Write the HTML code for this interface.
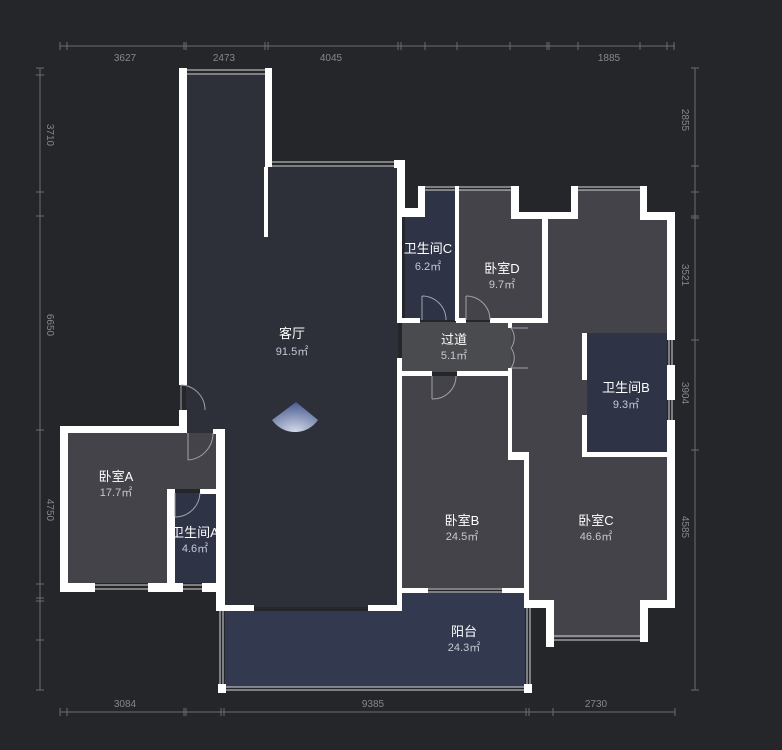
<!DOCTYPE html>
<html><head><meta charset="utf-8"><style>
html,body{margin:0;padding:0;background:#25262a;}
svg{display:block}
.t{font-family:"Liberation Sans","Noto Sans CJK SC",sans-serif;fill:#fff;font-size:13px;text-anchor:middle}
.a{font-family:"Liberation Sans","Noto Sans CJK SC",sans-serif;fill:#c4c8d4;font-size:11px;text-anchor:middle}
.d{font-family:"Liberation Sans",sans-serif;fill:#85878c;font-size:10px;text-anchor:middle}
</style></head><body>
<svg width="782" height="750" viewBox="0 0 782 750" xmlns="http://www.w3.org/2000/svg">
<rect width="782" height="750" fill="#25262a"/>
<!-- dimension lines -->
<g stroke="#6a6c71" stroke-width="1" fill="none">
<line x1="60" y1="46" x2="675" y2="46"/>
<line x1="60" y1="712" x2="675" y2="712"/>
<line x1="40" y1="68" x2="40" y2="690"/>
<line x1="695" y1="68" x2="695" y2="690"/>
<path d="M60 42v8M67 42v8M184 42v8M186 42v8M265 42v8M268 42v8M398 42v8M401 42v8M425 42v8M457 42v8M510 42v8M547 42v8M549 42v8M578 42v8M640 42v8M667 42v8M674 42v8"/>
<path d="M60 708v8M67 708v8M184 708v8M186 708v8M221 708v8M224 708v8M526 708v8M529 708v8M553 708v8M675 708v8"/>
<path d="M36 68h8M36 75h8M36 192h8M36 216h8M36 430h8M36 584h8M36 598h8M36 601h8M36 640h8M36 690h8"/>
<path d="M691 68h8M691 166h8M691 192h8M691 216h8M691 218h8M691 340h8M691 450h8M691 690h8"/>
</g>
<text class="d" x="125" y="61">3627</text><text class="d" x="224" y="61">2473</text>
<text class="d" x="331" y="61">4045</text><text class="d" x="609" y="61">1885</text>
<text class="d" x="125" y="707">3084</text><text class="d" x="373" y="707">9385</text><text class="d" x="596" y="707">2730</text>
<text class="d" transform="translate(47,135) rotate(90)">3710</text>
<text class="d" transform="translate(47,325) rotate(90)">6650</text>
<text class="d" transform="translate(47,510) rotate(90)">4750</text>
<text class="d" transform="translate(682,120) rotate(90)">2855</text>
<text class="d" transform="translate(682,275) rotate(90)">3521</text>
<text class="d" transform="translate(682,393) rotate(90)">3904</text>
<text class="d" transform="translate(682,527) rotate(90)">4585</text>
<!-- room fills -->
<polygon points="186,75 265,75 265,167 398,167 398,607 225,607 225,433 186,433" fill="#2d2f39"/>
<polygon points="68,433 216,433 216,489 167,489 167,583 68,583" fill="#434349"/>
<polygon points="175,493 216,493 216,583 175,583" fill="#2f3346"/>
<polygon points="405,210 418,210 418,190 456,190 456,320 405,320" fill="#2f3346"/>
<polygon points="459,190 511,190 511,218 546,218 546,320 459,320" fill="#434349"/>
<polygon points="402,322 511,322 511,372 402,372" fill="#4a4b4e"/>
<polygon points="402,376 510,376 510,452 524,452 524,588 402,588" fill="#434349"/>
<polygon points="546,218 578,218 578,190 640,190 640,218 667,218 667,602 640,602 640,638 554,638 554,602 528,602 528,457 511,457 511,322 546,322" fill="#434349"/>
<polygon points="587,333 667,333 667,452 587,452" fill="#2f3346"/>
<polygon points="225,611 402,611 402,593 525,593 525,687 225,687" fill="#333a50"/>
<!-- windows (thin lines) -->
<g stroke="#d8d8d8" stroke-width="1" fill="none">
<path d="M186 70h79M186 74h79"/>
<path d="M272 162h122M272 166h122"/>
<path d="M425 187h30M425 190h30M459 187h52M459 190h52"/>
<path d="M578 187h62M578 190h62"/>
<path d="M554 636h86M554 640h86"/>
<path d="M95 585h53M95 589h53M183 585h19M183 589h19"/>
<path d="M428 589h74M428 592h74"/>
<path d="M225 687h299M225 690h299"/>
<path d="M220 611v75M223 611v75M527 608v77M530 608v77"/>
<path d="M669 340v25M672 340v25M669 400v20M672 400v20"/>
</g>
<!-- walls -->
<g fill="#ffffff">
<rect x="179" y="68" width="8" height="317"/><rect x="179" y="410" width="8" height="23"/>
<rect x="179" y="68" width="8" height="7"/><rect x="265" y="68" width="7" height="99"/>
<rect x="264" y="167" width="4" height="70"/>
<rect x="394" y="160" width="11" height="8"/><rect x="398" y="160" width="7" height="50"/>
<rect x="398" y="208" width="27" height="9"/><rect x="418" y="186" width="7" height="31"/>
<rect x="455" y="186" width="4" height="135"/>
<rect x="511" y="186" width="8" height="32"/><rect x="511" y="212" width="67" height="7"/>
<rect x="571" y="186" width="7" height="32"/><rect x="640" y="186" width="7" height="31"/>
<rect x="640" y="212" width="35" height="8"/>
<rect x="667" y="212" width="8" height="128"/><rect x="667" y="365" width="8" height="35"/><rect x="667" y="420" width="8" height="188"/>
<rect x="640" y="600" width="35" height="8"/><rect x="640" y="600" width="8" height="42"/>
<rect x="546" y="600" width="8" height="47"/><rect x="524" y="600" width="30" height="8"/>
<rect x="397" y="318" width="23" height="5"/><rect x="456" y="318" width="10" height="5"/><rect x="490" y="318" width="58" height="5"/>
<rect x="542" y="218" width="6" height="105"/>
<rect x="397" y="160" width="5" height="162"/><rect x="397" y="358" width="5" height="253"/>
<rect x="397" y="371" width="35" height="5"/><rect x="457" y="371" width="54" height="5"/>
<rect x="508" y="318" width="4" height="10"/><rect x="508" y="368" width="4" height="90"/>
<rect x="508" y="452" width="20" height="8"/><rect x="524" y="452" width="5" height="150"/>
<rect x="582" y="333" width="5" height="47"/><rect x="582" y="415" width="5" height="42"/>
<rect x="582" y="452" width="90" height="5"/>
<rect x="60" y="426" width="127" height="7"/><rect x="213" y="429" width="12" height="5"/>
<rect x="60" y="426" width="8" height="166"/>
<rect x="60" y="583" width="35" height="9"/><rect x="148" y="583" width="35" height="9"/><rect x="202" y="583" width="23" height="9"/>
<rect x="216" y="430" width="9" height="181"/>
<rect x="167" y="489" width="8" height="94"/><rect x="200" y="489" width="21" height="5"/>
<rect x="216" y="605" width="38" height="6"/><rect x="368" y="605" width="34" height="6"/>
<rect x="402" y="588" width="26" height="5"/><rect x="502" y="588" width="27" height="5"/>
<rect x="218" y="684" width="8" height="9"/><rect x="524" y="684" width="8" height="9"/>
</g>
<!-- doors -->
<g stroke="#a0a2a8" stroke-width="1" fill="none">
<path d="M181 385v25M181 385a25 25 0 0 1 24 25"/>
<path d="M188 433v27M188 460a27 27 0 0 0 25 -27"/>
<path d="M175 493v24M175 517a25 25 0 0 0 25 -24"/>
<path d="M422 296v24M422 296a24 24 0 0 1 24 24"/>
<path d="M466 296v24M466 296a24 24 0 0 1 24 24"/>
<path d="M432 376v23M432 399a23 23 0 0 0 24 -23"/>
<path d="M511 328h17M511 328a17 17 0 0 1 0 20M511 368h17M511 368a17 17 0 0 0 0 -20"/>
</g>
<!-- compass -->
<defs><radialGradient id="g" cx="0.5" cy="1" r="1"><stop offset="0" stop-color="#e8eefc"/><stop offset="1" stop-color="#4a5f9a"/></radialGradient></defs>
<path d="M296 402 L272 420 A28 28 0 0 0 318 420 Z" fill="url(#g)" opacity="0.9"/>
<!-- labels -->
<text class="t" x="292" y="338">客厅</text><text class="a" x="292" y="355">91.5㎡</text>
<text class="t" x="428" y="253">卫生间C</text><text class="a" x="428" y="270">6.2㎡</text>
<text class="t" x="502" y="273">卧室D</text><text class="a" x="502" y="288">9.7㎡</text>
<text class="t" x="454" y="344">过道</text><text class="a" x="454" y="359">5.1㎡</text>
<text class="t" x="626" y="392">卫生间B</text><text class="a" x="626" y="408">9.3㎡</text>
<text class="t" x="116" y="481">卧室A</text><text class="a" x="116" y="496">17.7㎡</text>
<text class="t" x="195" y="537">卫生间A</text><text class="a" x="195" y="552">4.6㎡</text>
<text class="t" x="462" y="525">卧室B</text><text class="a" x="462" y="540">24.5㎡</text>
<text class="t" x="596" y="525">卧室C</text><text class="a" x="596" y="540">46.6㎡</text>
<text class="t" x="464" y="636">阳台</text><text class="a" x="464" y="651">24.3㎡</text>
</svg>
</body></html>
